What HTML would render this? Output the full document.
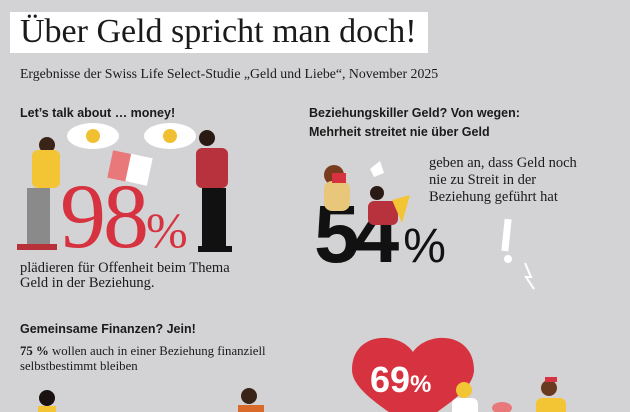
<!DOCTYPE html>
<html><head><meta charset="utf-8"><style>
body{margin:0;width:630px;height:412px;overflow:hidden;background:#d3d3d5;position:relative;font-family:"Liberation Serif",serif;color:#1a1a1a}
.a{position:absolute}
.h{font-family:"Liberation Sans",sans-serif;font-weight:bold;font-size:12.5px;line-height:19px}
.t{font-size:14.5px;line-height:15px}
</style></head><body>
<div class="a" style="left:10px;top:12px;width:418px;height:41px;background:#fff"></div>
<div class="a" style="left:20px;top:12px;font-size:34px;line-height:40px">Über Geld spricht man doch!</div>
<div class="a" style="left:20px;top:66px;font-size:13.8px">Ergebnisse der Swiss Life Select-Studie „Geld und Liebe“, November 2025</div>

<div class="a h" style="left:20px;top:104px">Let’s talk about … money!</div>
<svg class="a" style="left:0;top:120px" width="300" height="140">
<ellipse cx="93" cy="16" rx="26" ry="13" fill="#fff"/><circle cx="93" cy="16" r="7" fill="#f0c030"/>
<ellipse cx="170" cy="16" rx="26" ry="13" fill="#fff"/><circle cx="170" cy="16" r="7" fill="#f0c030"/>
<rect x="110" y="32" width="22" height="28" fill="#e8787a" transform="rotate(12 120 46)"/>
<rect x="128" y="36" width="22" height="28" fill="#fff" transform="rotate(12 140 50)"/>
<circle cx="47" cy="25" r="8" fill="#3a2418"/>
<rect x="32" y="30" width="28" height="38" rx="6" fill="#f3c433"/>
<rect x="27" y="68" width="23" height="58" fill="#8a8a8a"/>
<rect x="17" y="124" width="40" height="6" fill="#b83038"/>
<circle cx="207" cy="18" r="8" fill="#2a1a14"/>
<rect x="196" y="28" width="32" height="40" rx="6" fill="#b8323e"/>
<rect x="202" y="68" width="24" height="60" fill="#111"/>
<rect x="198" y="126" width="34" height="6" fill="#111"/>
</svg>
<div class="a" style="left:60px;top:170px;font-size:92px;line-height:92px;color:#d6323f;letter-spacing:-3px">98<span style="font-size:50px;letter-spacing:0">%</span></div>
<div class="a t" style="left:20px;top:261px">plädieren für Offenheit beim Thema<br>Geld in der Beziehung.</div>

<div class="a h" style="left:309px;top:104px">Beziehungskiller Geld? Von wegen:<br>Mehrheit streitet nie über Geld</div>
<div class="a t" style="left:429px;top:155px;line-height:17px">geben an, dass Geld noch<br>nie zu Streit in der<br>Beziehung geführt hat</div>
<div class="a" style="left:314px;top:190px;font-family:'Liberation Sans',sans-serif;font-weight:bold;font-size:82px;line-height:90px;color:#111;letter-spacing:-6px">54<span style="font-size:48px;letter-spacing:0;margin-left:10px;font-weight:normal">%</span></div>
<svg class="a" style="left:320px;top:155px" width="230" height="135">
<circle cx="14" cy="20" r="10" fill="#7a3a1e"/><rect x="4" y="26" width="26" height="30" rx="8" fill="#e9c77a"/>
<rect x="12" y="18" width="14" height="10" fill="#d6323f"/>
<path d="M50 14l10-8 4 12-10 4z" fill="#fff"/>
<circle cx="57" cy="38" r="7" fill="#2a1a14"/><rect x="48" y="46" width="30" height="24" rx="6" fill="#b8323e"/>
<polygon points="72,45 90,40 82,68" fill="#f3c433"/>
<rect x="183" y="64" width="7" height="32" fill="#fff" transform="rotate(6 186 80)"/><circle cx="188" cy="104" r="4" fill="#fff"/>
<path d="M205 108l6 14-5 0 8 12" stroke="#fff" stroke-width="2" fill="none"/>
</svg>

<div class="a h" style="left:20px;top:320px">Gemeinsame Finanzen? Jein!</div>
<div class="a" style="left:20px;top:344px;font-size:12.8px;line-height:15px"><b>75 %</b> wollen auch in einer Beziehung finanziell<br>selbstbestimmt bleiben</div>
<svg class="a" style="left:0;top:330px" width="630" height="82">
<path d="M413 22 C398 0,352 2,352 40 C352 62,392 82,413 100 C434 82,474 62,474 40 C474 2,428 0,413 22Z" fill="#d6323f"/>
<circle cx="47" cy="68" r="8" fill="#1a1210"/><rect x="38" y="76" width="18" height="10" fill="#f3c433"/>
<circle cx="249" cy="66" r="8" fill="#3a2418"/><rect x="238" y="75" width="26" height="10" fill="#d96a2a"/>
<circle cx="464" cy="60" r="8" fill="#f3c433"/><rect x="452" y="68" width="26" height="20" rx="6" fill="#fff"/>
<ellipse cx="502" cy="78" rx="10" ry="6" fill="#e8787a"/>
<circle cx="549" cy="58" r="8" fill="#6a3a20"/><rect x="545" y="47" width="12" height="5" fill="#d6323f"/><rect x="536" y="68" width="30" height="20" rx="6" fill="#f3c433"/>
</svg>
<div class="a" style="left:370px;top:358px;font-family:'Liberation Sans',sans-serif;font-weight:bold;font-size:36px;line-height:44px;color:#fff">69<span style="font-size:24px">%</span></div>
</body></html>
